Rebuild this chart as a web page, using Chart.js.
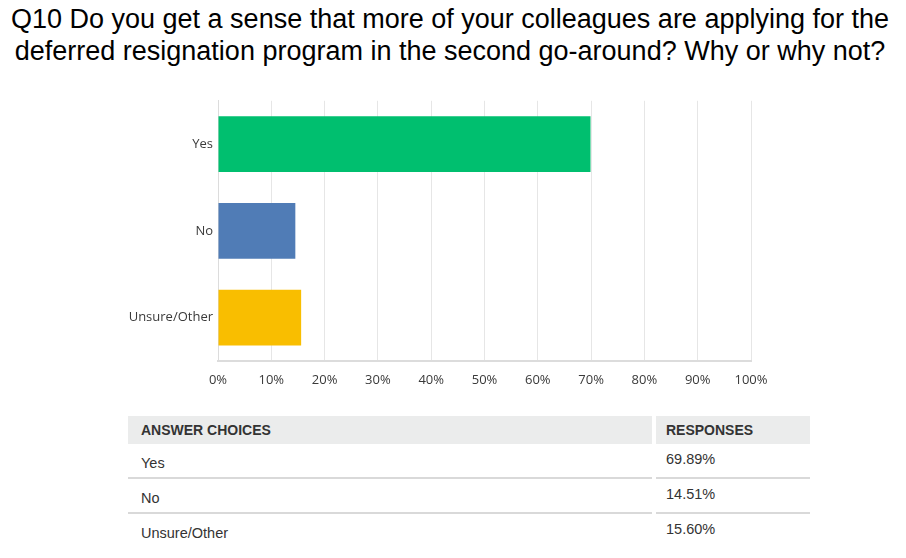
<!DOCTYPE html>
<html>
<head>
<meta charset="utf-8">
<script src="https://cdn.jsdelivr.net/npm/chart.js@4"></script>
<style>
  body { margin: 0; background: #fff; width: 906px; height: 558px; overflow: hidden; position: relative; }
  h1 { position: absolute; left: 0; top: 3px; width: 900px; margin: 0; text-align: center;
       font: 400 27px "Liberation Sans", Arial, sans-serif; line-height: 32px; color: #000; }
  #chartBox { position: absolute; left: 0; top: 88px; width: 906px; height: 307px; }
  .tbl { position: absolute; left: 128px; top: 416px; font-family: "Liberation Sans", Arial, sans-serif; color: #333; }
  .row { display: flex; }
  .c1 { width: 524px; margin-right: 4px; box-sizing: border-box; padding-left: 13px; }
  .c2 { width: 154px; box-sizing: border-box; padding-left: 10px; }
  .head .c1, .head .c2 { background: #ebecec; height: 28px; line-height: 28px; font-weight: bold; font-size: 14px; }
  .body .c1, .body .c2 { height: 35px; font-size: 14.5px; border-bottom: 2px solid #d9d9d9; }
  .body .c1 { padding-top: 11px; }
  .body .c2 { padding-top: 7px; }
  .body.last .c1, .body.last .c2 { border-bottom: none; }
</style>
</head>
<body>
<h1>Q10 Do you get a sense that more of your colleagues are applying for the<br>deferred resignation program in the second go-around? Why or why not?</h1>
<div id="chartBox"><canvas id="myChart"></canvas></div>
<div class="tbl" id="tbl"></div>
<script>
const categories = ['Yes', 'No', 'Unsure/Other'];
const responses = [69.89, 14.51, 15.60];
const barColors = ['#00bf6f', '#507cb6', '#f9be00'];
const tickValues = [0, 10, 20, 30, 40, 50, 60, 70, 80, 90, 100];

// table under the chart
const tbl = document.getElementById('tbl');
let html = '<div class="row head"><div class="c1">ANSWER CHOICES</div><div class="c2">RESPONSES</div></div>';
categories.forEach((cat, i) => {
    const last = i === categories.length - 1 ? ' last' : '';
    html += '<div class="row body' + last + '"><div class="c1">' + cat + '</div><div class="c2">' + responses[i].toFixed(2) + '%</div></div>';
});
tbl.innerHTML = html;

new Chart(document.getElementById('myChart'), {
    type: 'bar',
    data: {
        labels: categories,
        datasets: [{
            data: responses,
            backgroundColor: barColors,
            borderWidth: 0,
            barPercentage: 0.8,
            categoryPercentage: 0.805
        }]
    },
    options: {
        indexAxis: 'y',
        responsive: true,
        maintainAspectRatio: false,
        animation: false,
        layout: { padding: { top: 10, right: 155, left: 0, bottom: 0 } },
        plugins: { legend: { display: false }, tooltip: { enabled: false } },
        scales: {
            x: {
                min: 0, max: 100,
                afterBuildTicks: axis => { axis.ticks = tickValues.map(v => ({ value: v })); },
                afterFit: axis => { axis.height = 34; },
                grid: { color: '#e6e6e6', lineWidth: 1, drawTicks: false },
                border: { color: '#dcdcdc', width: 2 },
                ticks: {
                    padding: 11,
                    color: '#3a3a3a',
                    font: { family: 'Open Sans', size: 13 },
                    callback: v => v + '%'
                }
            },
            y: {
                afterFit: axis => { axis.width = 218; },
                grid: { display: false, drawTicks: false },
                border: { color: '#dcdcdc', width: 1 },
                ticks: {
                    padding: 5,
                    color: '#3a3a3a',
                    font: { family: 'Open Sans', size: 13 }
                }
            }
        }
    }
});
</script>
</body>
</html>
